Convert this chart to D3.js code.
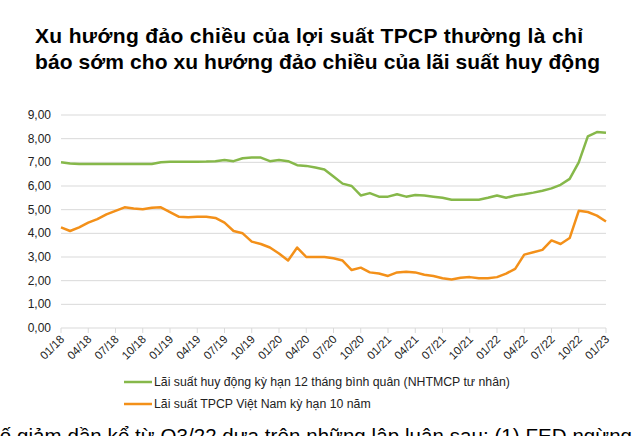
<!DOCTYPE html>
<html><head><meta charset="utf-8">
<script src="https://cdn.jsdelivr.net/npm/d3@7"></script>
<style>body{margin:0;background:#fff;overflow:hidden}</style>
</head><body><svg id="c" width="640" height="436"></svg>
<script>
const quarterLabels=["01/18","04/18","07/18","10/18","01/19","04/19","07/19","10/19","01/20","04/20","07/20","10/20","01/21","04/21","07/21","10/21","01/22","04/22","07/22","10/22","01/23"];
const yTicks=[0,1,2,3,4,5,6,7,8,9];
const depositRate=[7.0,6.95,6.93,6.93,6.93,6.93,6.93,6.93,6.93,6.93,6.93,7.0,7.02,7.02,7.02,7.02,7.03,7.05,7.1,7.05,7.17,7.2,7.2,7.05,7.1,7.05,6.88,6.85,6.78,6.7,6.4,6.1,6.0,5.6,5.7,5.55,5.55,5.65,5.55,5.62,5.6,5.55,5.5,5.42,5.42,5.42,5.42,5.5,5.6,5.5,5.6,5.65,5.72,5.8,5.9,6.05,6.3,7.0,8.1,8.28,8.25];
const bondYield=[4.25,4.1,4.25,4.45,4.6,4.8,4.95,5.1,5.05,5.02,5.08,5.1,4.9,4.7,4.68,4.7,4.7,4.65,4.45,4.1,4.0,3.65,3.55,3.4,3.15,2.85,3.4,3.0,3.0,3.0,2.95,2.85,2.45,2.55,2.35,2.3,2.2,2.35,2.38,2.35,2.25,2.2,2.1,2.05,2.12,2.15,2.1,2.1,2.15,2.3,2.5,3.1,3.2,3.3,3.7,3.55,3.8,4.95,4.9,4.75,4.5];
const seriesNames=["Lãi suất huy động kỳ hạn 12 tháng bình quân (NHTMCP tư nhân)","Lãi suất TPCP Việt Nam kỳ hạn 10 năm"];
const colors=["#86b84a","#f39019"];

const svg=d3.select("#c");
const tf="Liberation Sans, Arial";
svg.append("text").attr("x",35).attr("y",43).attr("font-family",tf).attr("font-weight","bold").attr("font-size",21).attr("fill","#000").attr("textLength",548).text("Xu hướng đảo chiều của lợi suất TPCP thường là chỉ");
svg.append("text").attr("x",35).attr("y",69).attr("font-family",tf).attr("font-weight","bold").attr("font-size",21).attr("fill","#000").attr("textLength",565).text("báo sớm cho xu hướng đảo chiều của lãi suất huy động");

const x=d3.scaleLinear().domain([0,60]).range([61,606]);
const y=d3.scaleLinear().domain([0,9]).range([328,115]);
const nf="Liberation Sans Narrow, Arial Narrow, Liberation Sans, Arial";

const g=svg.append("g");
g.selectAll(".grid").data(yTicks).enter().append("line").attr("x1",61).attr("x2",606).attr("y1",d=>y(d)).attr("y2",d=>y(d)).attr("stroke","#d9d9d9").attr("stroke-width",1);
g.selectAll(".yl").data(yTicks).enter().append("text").attr("x",51).attr("y",d=>y(d)+4).attr("text-anchor","end").attr("font-family",nf).attr("font-size",12).attr("fill","#222").text(d=>d.toFixed(2).replace(".",","));
g.selectAll(".xt").data(quarterLabels).enter().append("line").attr("x1",(d,i)=>x(i*3)).attr("x2",(d,i)=>x(i*3)).attr("y1",328).attr("y2",333).attr("stroke","#d9d9d9");
g.selectAll(".xl").data(quarterLabels).enter().append("text").attr("transform",(d,i)=>`translate(${x(i*3)+4},${340}) rotate(-45)`).attr("text-anchor","end").attr("font-family",nf).attr("font-size",11.5).attr("fill","#222").text(d=>d);

const line=d3.line().x((d,i)=>x(i)).y(d=>y(d)).curve(d3.curveLinear);
[depositRate,bondYield].forEach((s,k)=>{
  svg.append("path").datum(s).attr("d",line).attr("fill","none").attr("stroke",colors[k]).attr("stroke-width",2.5).attr("stroke-linejoin","round");
});
seriesNames.forEach((n,k)=>{
  const yy=382+k*22;
  svg.append("line").attr("x1",124).attr("x2",152).attr("y1",yy).attr("y2",yy).attr("stroke",colors[k]).attr("stroke-width",2.5);
  svg.append("text").attr("x",154).attr("y",yy+4).attr("font-family",nf).attr("font-size",12.3).attr("fill","#222").text(n);
});
svg.append("text").attr("x",-14).attr("y",443).attr("font-family",tf).attr("font-size",20.5).attr("fill","#000").attr("textLength",646).text("Số giảm dần kể từ Q3/22 dựa trên những lập luận sau: (1) FED ngừng");
</script></body></html>
